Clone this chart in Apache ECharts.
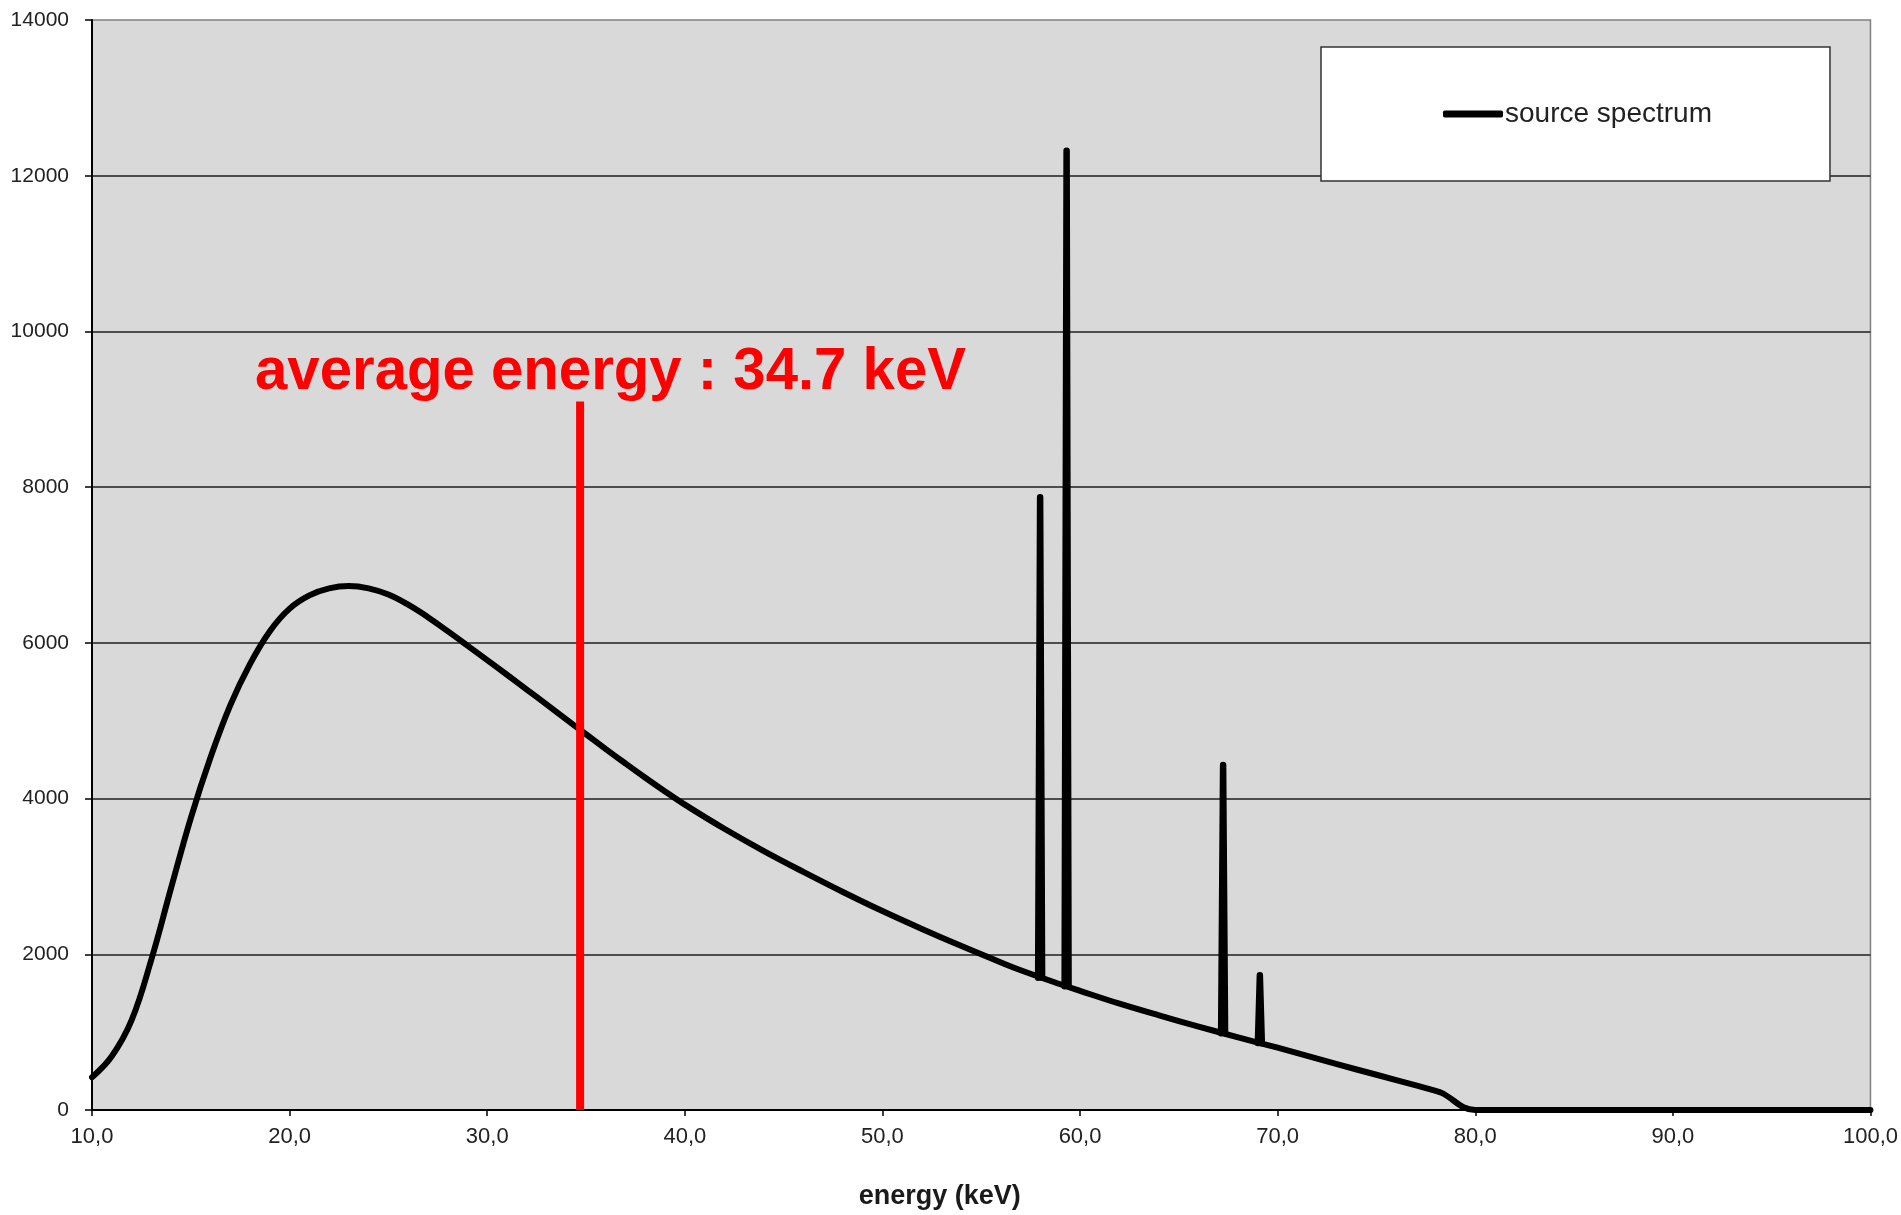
<!DOCTYPE html>
<html>
<head>
<meta charset="utf-8">
<script src="https://cdn.jsdelivr.net/npm/echarts@6/dist/echarts.min.js"></script>
<style>
  html, body { margin: 0; padding: 0; background: #fff; }
  #chart { width: 1901px; height: 1215px; }
</style>
</head>
<body>
<div id="chart"></div>
<script>
// continuum of the source spectrum (keV, counts)
var continuumKeV = [10, 11, 12, 13, 14, 15, 16, 17, 18, 19, 20, 21, 22, 23, 24, 25, 26, 27, 28, 29, 30,
  31, 32, 33, 34, 35, 36, 37, 38, 39, 40, 42, 44, 46, 48, 50, 52, 54, 56, 57, 59, 60, 62, 64, 66, 68, 70,
  72, 74, 76, 78, 78.3, 80, 90, 100];
var continuumCounts = [420, 690, 1150, 1930, 2850, 3750, 4530, 5200, 5730, 6150, 6440, 6610, 6700, 6730, 6700, 6620, 6490, 6330, 6150, 5965, 5778,
  5590, 5400, 5210, 5018, 4826, 4636, 4450, 4268, 4092, 3922, 3612, 3325, 3058, 2800, 2555, 2325, 2105, 1895, 1795, 1615, 1530, 1365, 1215, 1072, 933, 800,
  660, 520, 385, 245, 220, 0, 0, 0];

// characteristic lines
var peakKeV = [57.98, 59.32, 67.24, 69.10];
var peakTop = [7870, 12320, 4430, 1730];
var peakBase = [1700, 1590, 985, 860];
var peakHalfWidth = 0.1;

var avgEnergy = 34.7;
var avgLineTop = 9100;

var continuumData = continuumKeV.map(function(k, i) { return [k, continuumCounts[i]]; });
var peakData = [];
peakKeV.forEach(function(k, i) {
  peakData.push([k - peakHalfWidth, peakBase[i]]);
  peakData.push([k, peakTop[i]]);
  peakData.push([k + peakHalfWidth, peakBase[i]]);
  peakData.push(null);
});

var labelFont = 'Liberation Sans, Arial, sans-serif';
var chart = echarts.init(document.getElementById('chart'));

var option = {
  backgroundColor: '#ffffff',
  animation: false,
  grid: {
    left: 92, right: 30, top: 20, bottom: 103,
    show: true,
    backgroundColor: '#d9d9d9',
    borderColor: '#808080',
    borderWidth: 1.5
  },
  legend: {
    data: ['source spectrum'],
    left: 1321, top: 47,
    padding: [53, 118, 53, 122],
    backgroundColor: '#ffffff',
    borderColor: '#333333',
    borderWidth: 1.5,
    icon: 'roundRect',
    itemWidth: 60,
    itemHeight: 7,
    textStyle: { fontFamily: labelFont, fontSize: 28, color: '#222', padding: [0, 0, 0, -3] }
  },
  xAxis: {
    type: 'value',
    min: 10, max: 100, interval: 10,
    name: 'energy (keV)',
    nameLocation: 'middle',
    nameGap: 73,
    nameTextStyle: { fontFamily: labelFont, fontSize: 27, fontWeight: 'bold', color: '#1a1a1a', padding: [0, 83, 0, 0] },
    axisLine: { lineStyle: { color: '#000', width: 2 } },
    axisTick: { length: 6, lineStyle: { color: '#000', width: 1.5 } },
    axisLabel: {
      fontFamily: labelFont, fontSize: 22, color: '#222', margin: 16,
      formatter: function(v) { return v.toFixed(1).replace('.', ','); }
    },
    splitLine: { show: false }
  },
  yAxis: {
    type: 'value',
    min: 0, max: 14000, interval: 2000,
    axisLine: { show: true, lineStyle: { color: '#000', width: 2 } },
    axisTick: { show: true, length: 7, lineStyle: { color: '#000', width: 1.5 } },
    axisLabel: {
      fontFamily: labelFont, fontSize: 21, color: '#222', margin: 23,
      formatter: function(v) { return String(v); }
    },
    splitLine: { show: true, showMaxLine: false, lineStyle: { color: '#1e1e1e', width: 1.5 } }
  },
  series: [
    {
      name: 'source spectrum',
      type: 'line',
      data: continuumData,
      smooth: 0.4,
      showSymbol: false,
      symbol: 'none',
      clip: true,
      lineStyle: { color: '#000', width: 6, cap: 'round', join: 'round' },
      itemStyle: { color: '#000' },
      z: 3
    },
    {
      name: 'source spectrum',
      type: 'line',
      data: peakData,
      connectNulls: false,
      showSymbol: false,
      symbol: 'none',
      lineStyle: { color: '#000', width: 6.5, cap: 'round', join: 'round' },
      itemStyle: { color: '#000' },
      z: 3
    },
    {
      name: 'average energy',
      type: 'line',
      data: [[avgEnergy, 0], [avgEnergy, avgLineTop]],
      showSymbol: false,
      symbol: 'none',
      lineStyle: { color: '#ff0000', width: 8, cap: 'butt' },
      itemStyle: { color: '#ff0000' },
      z: 4
    }
  ],
  graphic: [
    {
      type: 'text',
      x: 255, y: 372,
      scaleX: 0.969,
      z: 10,
      style: {
        text: 'average energy : 34.7 keV',
        fontFamily: labelFont,
        fontSize: 60,
        fontWeight: 'bold',
        fill: '#ff0000',
        align: 'left',
        verticalAlign: 'middle'
      }
    }
  ]
};

chart.setOption(option);
</script>
</body>
</html>
